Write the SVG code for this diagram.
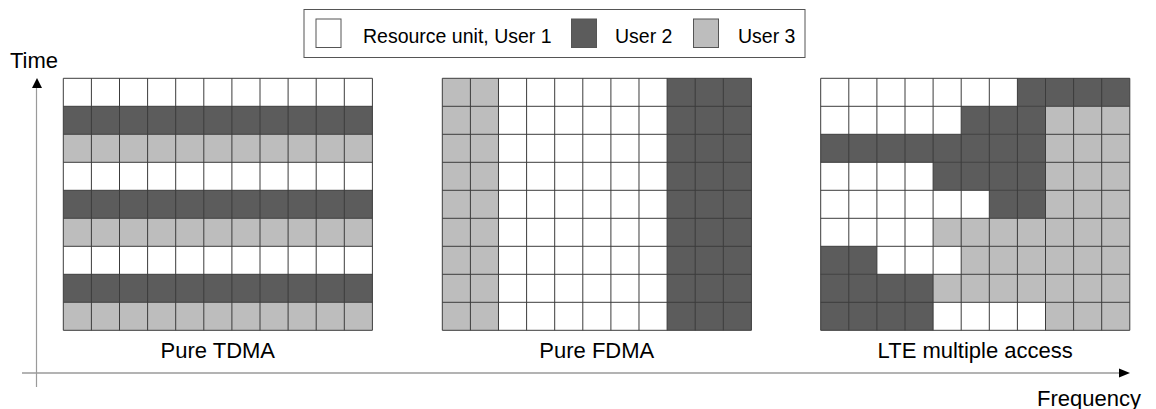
<svg xmlns="http://www.w3.org/2000/svg" xmlns:xlink="http://www.w3.org/1999/xlink" width="1156" height="409" viewBox="0 0 1156 409">
  <style>
    text { font-family: "Liberation Sans", Arial, sans-serif; fill: #000; }
    .lbl { font-size: 22px; }
    .leg { font-size: 19.5px; }
    .u1 { fill: #ffffff; }
    .u2 { fill: #5c5c5c; }
    .u3 { fill: #bdbdbd; }
    .grid { fill: none; stroke: #3c3c3c; stroke-width: 1; }
    .swatch { stroke: #555; stroke-width: 1; }
    .axis { stroke: #9a9a9a; fill: none; }
    .head { fill: #000; }
  </style>
  <defs>
    <!-- 11 x 9 resource grid lines, cell 28.1 x 28 -->
    <path id="gridlines" class="grid" d="
      M0,0H309.1 M0,28H309.1 M0,56H309.1 M0,84H309.1 M0,112H309.1
      M0,140H309.1 M0,168H309.1 M0,196H309.1 M0,224H309.1 M0,252H309.1
      M0,0V252 M28.1,0V252 M56.2,0V252 M84.3,0V252 M112.4,0V252 M140.5,0V252
      M168.6,0V252 M196.7,0V252 M224.8,0V252 M252.9,0V252 M281,0V252 M309.1,0V252"/>
  </defs>
  <rect width="1156" height="409" fill="#fff"/>

  <!-- Legend -->
  <g id="legend">
    <rect x="304" y="9.5" width="501" height="48" fill="#fff" stroke="#555" stroke-width="1"/>
    <rect class="u1 swatch" x="316" y="19" width="25" height="28.5"/>
    <text class="leg" x="363" y="43">Resource unit, User 1</text>
    <rect class="u2 swatch" x="571.5" y="19" width="25" height="28.5"/>
    <text class="leg" x="615" y="43">User 2</text>
    <rect class="u3 swatch" x="693.5" y="19" width="25" height="28.5"/>
    <text class="leg" x="738" y="43">User 3</text>
  </g>

  <!-- Axes -->
  <g id="axes">
    <path class="axis" stroke-width="1.2" d="M36.5,387V86"/>
    <polygon class="head" points="37,78 32,88 42,88"/>
    <path class="axis" stroke-width="1.6" d="M22,373H1121"/>
    <polygon class="head" points="1130,373 1119,368.5 1119,377.5"/>
    <text class="lbl" x="10" y="68">Time</text>
    <text class="lbl" x="1141" y="406" text-anchor="end">Frequency</text>
  </g>

  <!-- Pure TDMA: users alternate by time slot -->
  <g id="tdma" transform="translate(63.3,78.3)">
    <rect class="u1" x="0" y="0" width="309.1" height="252"/>
    <rect class="u2" x="0" y="28" width="309.1" height="28"/>
    <rect class="u3" x="0" y="56" width="309.1" height="28"/>
    <rect class="u2" x="0" y="112" width="309.1" height="28"/>
    <rect class="u3" x="0" y="140" width="309.1" height="28"/>
    <rect class="u2" x="0" y="196" width="309.1" height="28"/>
    <rect class="u3" x="0" y="224" width="309.1" height="28"/>
    <use xlink:href="#gridlines"/>
    <text class="lbl" x="154.5" y="358" text-anchor="middle" transform="translate(0,-78.3)">Pure TDMA</text>
  </g>

  <!-- Pure FDMA: users split by sub-carrier -->
  <g id="fdma" transform="translate(442.3,78.3)">
    <rect class="u1" x="0" y="0" width="309.1" height="252"/>
    <rect class="u3" x="0" y="0" width="56.2" height="252"/>
    <rect class="u2" x="224.8" y="0" width="84.3" height="252"/>
    <use xlink:href="#gridlines"/>
    <text class="lbl" x="154.5" y="279.7" text-anchor="middle">Pure FDMA</text>
  </g>

  <!-- LTE: scheduling in both time and frequency -->
  <g id="lte" transform="translate(820.7,78.3)">
    <rect class="u1" x="0" y="0" width="309.1" height="252"/>
    <rect class="u2" x="196.7" y="0" width="112.4" height="28"/>
    <rect class="u2" x="140.5" y="28" width="84.3" height="28"/>
    <rect class="u2" x="0" y="56" width="224.8" height="28"/>
    <rect class="u2" x="112.4" y="84" width="112.4" height="28"/>
    <rect class="u2" x="168.6" y="112" width="56.2" height="28"/>
    <rect class="u3" x="224.8" y="28" width="84.3" height="112"/>
    <rect class="u3" x="112.4" y="140" width="196.7" height="28"/>
    <rect class="u2" x="0" y="168" width="56.2" height="28"/>
    <rect class="u3" x="140.5" y="168" width="168.6" height="28"/>
    <rect class="u2" x="0" y="196" width="112.4" height="56"/>
    <rect class="u3" x="112.4" y="196" width="196.7" height="28"/>
    <rect class="u3" x="224.8" y="224" width="84.3" height="28"/>
    <use xlink:href="#gridlines"/>
    <text class="lbl" x="154.5" y="279.7" text-anchor="middle">LTE multiple access</text>
  </g>
</svg>
